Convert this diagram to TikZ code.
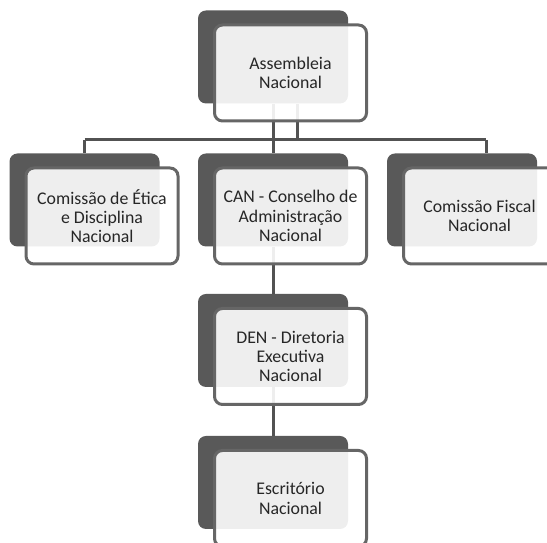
\documentclass[tikz,border=0pt]{standalone}
\usepackage{fontspec}
\setmainfont{Carlito}
\usepackage{color}
\definecolor{backgray}{HTML}{595959}
\definecolor{edgegray}{HTML}{666666}
\definecolor{linegray}{HTML}{525252}
\begin{document}
\begin{tikzpicture}[x=1pt,y=1pt,
  backbox/.style={draw=none,fill=backgray,rounded corners=8pt,minimum width=150pt,minimum height=93pt,inner sep=0pt},
  frontbox/.style={draw=edgegray,line width=3pt,fill=white,fill opacity=0.9,text opacity=1,rounded corners=8pt,minimum width=152pt,minimum height=96pt,inner sep=0pt,align=center,text=black!85,font=\fontsize{17.8}{19.2}\selectfont},
  link/.style={draw=linegray,line width=3pt}]
\useasboundingbox (0,0) rectangle (547,543);
% back boxes
\node[backbox] (asm) at (273,486) {};
\node[backbox] (etica) at (84.5,343) {};
\node[backbox] (can) at (273,343) {};
\node[backbox] (fiscal) at (462,343) {};
\node[backbox] (den) at (273,202.5) {};
\node[backbox] (esc) at (273,60.5) {};
% connectors
\coordinate (busL) at (84.5,403);
\coordinate (busR) at (486,403);
\draw[link] (asm.south) -- (can.north);
\draw[link] ([xshift=24pt]asm.south) -- ([xshift=24pt]asm.south |- busL);
\draw[link] (busL) -- (busR);
\draw[link] (busL) -- (etica.north);
\draw[link] (busR) -- (busR |- fiscal.north);
\draw[link] (can.south) -- (den.north);
\draw[link] (den.south) -- (esc.north);
% front boxes
\node[frontbox] (asmf) at ([shift={(17.5,-16)}]asm.center) {Assembleia\\Nacional};
\node[frontbox] (eticaf) at ([shift={(17.5,-16)}]etica.center) {Comissão de Ética\\e Disciplina\\Nacional};
\node[frontbox] (canf) at ([shift={(17.5,-16)}]can.center) {CAN - Conselho de\\Administração\\Nacional};
\node[frontbox] (fiscalf) at ([shift={(17.5,-16)}]fiscal.center) {Comissão Fiscal\\Nacional};
\node[frontbox] (denf) at ([shift={(17.5,-16)}]den.center) {DEN - Diretoria\\Executiva\\Nacional};
\node[frontbox] (escf) at ([shift={(17.5,-16)}]esc.center) {Escritório\\Nacional};
\end{tikzpicture}
\end{document}
